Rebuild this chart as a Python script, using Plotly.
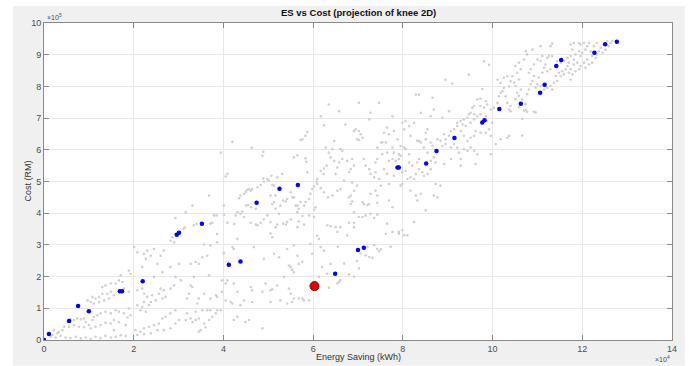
import plotly.graph_objects as go

# ---- data (x in 1e4 kWh, y in 1e5 RM) ----
x_ticks = [0, 2, 4, 6, 8, 10, 12, 14]
y_ticks = [0, 1, 2, 3, 4, 5, 6, 7, 8, 9, 10]

blue_x = [0.00, 0.11, 0.56, 0.76, 1.00, 1.69, 1.74, 2.20, 2.96, 3.01, 3.52, 4.12, 4.38, 4.74, 5.25,
          5.66, 6.49, 7.00, 7.13, 7.88, 7.91, 8.52, 8.75, 9.15, 9.77, 9.82, 10.15, 10.63, 11.06,
          11.16, 11.42, 11.53, 12.27, 12.51, 12.77]
blue_y = [0.00, 0.19, 0.60, 1.07, 0.91, 1.54, 1.54, 1.85, 3.32, 3.38, 3.67, 2.37, 2.48, 4.33, 4.77,
          4.89, 2.09, 2.84, 2.91, 5.44, 5.44, 5.57, 5.96, 6.37, 6.86, 6.93, 7.29, 7.45, 7.80,
          8.05, 8.64, 8.83, 9.06, 9.33, 9.41]

knee_x = [6.03]
knee_y = [1.70]

gray_low_left = [
    (2.82,3.13),(2.86,3.24),(2.90,3.08),(2.93,3.34),(2.01,2.93),(2.08,2.77),(2.23,2.72),(2.30,2.82),
    (2.38,2.66),(2.45,2.87),(2.60,2.66),(2.67,2.82),(2.27,2.56),(2.53,2.40),(2.19,2.30),(2.82,2.30),
    (2.64,2.14),(2.45,1.99),(2.93,1.99),(3.05,1.88),(3.01,2.40),
    (1.71,2.04),(1.67,1.88),(1.60,1.78),(1.49,1.78),(1.37,1.72),(1.30,1.67),(1.75,1.83),(1.78,1.62),
    (1.89,1.52),(1.89,2.19),(1.93,2.09),
    (1.08,1.36),(1.15,1.31),(1.23,1.36),(1.30,1.46),(1.41,1.46),(1.49,1.52),(1.56,1.41),(0.97,1.25),
    (1.04,1.20),(1.11,1.15),(1.23,1.20),(1.34,1.25),(1.45,1.31),
    (2.08,1.57),(2.19,1.62),(2.23,1.46),(2.30,1.36),(2.41,1.41),(2.56,1.46),(2.60,1.62),(2.67,1.57),
    (2.82,1.62),(2.90,1.72),(2.23,1.20),(2.38,1.20),(2.49,1.25),(2.64,1.31),(2.71,1.36),(2.08,1.10),
    (2.19,1.04),(2.34,1.10),(2.15,0.94),(2.27,0.89),
    (0.52,0.57),(0.59,0.65),(0.67,0.63),(0.74,0.68),(0.82,0.65),(0.89,0.68),(0.93,0.57),(1.00,0.47),
    (1.08,0.63),(1.11,0.73),(1.19,0.78),(1.26,0.84),(1.37,0.89),(1.49,0.84),(1.60,0.94),(1.67,0.89),
    (1.78,0.84),(1.89,0.99),(1.93,0.78),(1.86,0.71),
    (0.45,0.42),(0.56,0.42),(0.67,0.47),(0.78,0.42),(0.89,0.40),(1.04,0.37),(1.15,0.42),(1.26,0.47),
    (1.37,0.54),(1.49,0.52),(1.56,0.63),(1.67,0.57),(1.82,0.47),(1.56,0.31),
    (0.22,0.31),(0.33,0.26),(0.41,0.31),(0.30,0.21),(0.19,0.16),(0.15,0.10),(0.26,0.08),(0.37,0.13),
    (0.48,0.08),(0.59,0.06),(0.71,0.10),(0.82,0.05),(0.93,0.08),(1.04,0.04),(1.15,0.10),(1.26,0.06),
    (1.37,0.13),(1.49,0.08),(1.60,0.10),(1.71,0.15),(1.82,0.13),
    (2.04,0.31),(2.15,0.26),(2.23,0.37),(2.34,0.42),(2.45,0.47),(2.56,0.52),(2.64,0.68),(2.71,0.73),
    (2.82,0.84),(2.93,0.94),(3.01,0.63),(2.93,0.52),(2.82,0.37),(2.67,0.31),(2.53,0.31),(2.38,0.21),
    (2.23,0.19),(2.08,0.16),
]

gray_low_mid = [
    (3.86,3.34),(4.31,3.19),(4.20,2.93),(4.23,2.87),(4.01,2.74),(3.57,3.01),(3.71,2.98),(3.86,3.08),
    (4.68,2.93),(5.05,3.36),(5.09,3.24),(4.90,2.56),(5.13,2.72),(5.24,2.61),(5.42,2.87),(5.57,2.98),
    (5.65,2.66),(5.68,2.40),(5.50,2.30),(5.53,2.22),(5.46,2.35),(5.57,2.14),(5.76,2.46),(5.94,3.03),
    (5.98,2.72),(6.09,3.29),(6.13,3.19),(6.17,2.93),(6.24,2.82),(6.20,2.30),(6.31,2.09),(6.39,2.40),
    (3.27,2.40),(3.38,2.46),(3.45,2.40),(3.53,2.61),(3.64,2.66),(3.34,1.99),(3.68,2.04),(3.97,1.88),
    (4.09,1.88),(4.05,1.78),(4.23,1.78),(4.31,1.52),(4.61,1.67),(4.64,1.57),(4.87,1.52),(4.94,1.78),
    (5.05,1.57),(5.09,1.60),(5.20,1.72),(5.35,1.99),(5.46,1.62),(5.50,1.46),(5.57,1.31),(5.68,1.31),
    (5.76,1.31),(5.79,1.25),(5.91,1.25),(6.09,1.67),(6.13,1.99),(6.35,1.65),(3.27,1.72),(3.31,1.67),
    (3.23,1.46),(3.19,1.31),(3.45,1.31),(3.57,1.46),(3.71,1.31),(3.83,1.41),(3.86,1.36),(3.97,1.52),
    (4.05,1.25),(4.16,1.20),(4.20,1.15),(4.38,1.10),(4.46,1.25),(4.64,1.20),(5.05,1.20),(5.27,1.25),
    (5.42,1.15),(5.53,1.20),(3.42,1.15),(3.38,0.89),(3.53,0.94),(3.64,0.94),(3.71,0.94),(3.86,0.94),
    (3.94,0.94),(3.83,0.84),(3.75,0.73),(3.68,0.63),(3.45,0.68),(3.38,0.63),(3.27,0.68),(3.31,0.57),
    (3.57,0.52),(3.60,0.40),(3.49,0.31),(3.45,0.26),(4.31,0.73),(4.23,0.63),(4.49,0.57),(4.57,0.63),
    (4.87,0.37),(3.19,0.84),(3.16,0.63),
]

gray_low_right = [
    (6.84,4.29),(6.87,4.37),(7.10,4.35),(7.13,4.29),(7.21,4.26),(7.25,4.29),(7.43,4.33),(7.69,4.40),
    (7.77,4.19),(8.32,4.40),(8.51,4.09),(6.91,4.03),(7.02,3.88),(7.10,3.88),(7.17,3.93),(7.28,3.98),
    (7.36,3.85),(7.43,3.95),(6.50,3.56),(6.61,3.56),(6.54,3.41),(6.80,3.70),(6.91,3.70),(6.91,3.56),
    (6.76,3.30),(7.65,3.67),(7.62,3.35),(7.77,3.41),(7.91,3.41),(7.91,3.35),(7.99,3.46),(8.03,3.30),
    (8.10,3.30),(8.25,3.72),(7.36,2.99),(7.43,2.88),(7.51,2.86),(7.47,2.80),(7.73,2.94),(6.55,2.94),
    (7.21,2.94),(7.17,2.67),(7.25,2.62),(7.32,2.59),(6.98,2.49),(7.06,2.73),(6.69,2.41),(7.02,2.26),
    (6.80,2.07),(6.91,2.00),(6.61,1.89),(6.58,1.84),(6.54,1.79),
]

gray_mid = [
    (6.35,7.43),(6.17,7.06),(6.24,6.77),(5.87,6.56),(5.83,6.44),(5.76,6.33),(5.72,6.31),(4.20,6.25),
    (3.94,5.91),(4.63,6.06),(4.89,5.94),(4.87,5.81),(5.57,5.76),(5.65,5.83),(5.83,5.73),(5.85,5.62),
    (6.28,6.07),(6.43,6.02),(6.35,5.91),(6.39,5.76),(6.30,5.50),(6.24,5.41),(6.17,5.34),(6.23,5.24),
    (6.09,5.08),(6.08,4.99),(5.87,5.29),(5.31,5.24),(5.20,5.13),(5.07,5.18),(4.98,5.08),(4.89,5.10),
    (4.09,5.24),(4.05,5.16),(3.68,4.56),(3.31,4.24),(3.16,4.03),(2.93,3.85),(3.11,3.51),(3.14,3.55),
    (3.34,3.62),(3.40,3.66),(3.71,3.67),(3.75,3.70),(3.79,3.93),(3.85,3.93),(4.01,4.24),(4.01,3.95),
    (4.09,3.70),(4.24,3.66),(4.27,3.93),(4.31,4.03),(4.35,4.47),(4.38,4.56),(4.46,4.61),(4.50,4.68),
    (4.53,4.74),(4.57,4.76),(4.61,4.71),(4.64,4.76),(4.72,4.14),(4.76,4.82),(4.83,4.89),(4.90,4.99),
    (5.01,5.03),(5.09,4.89),(5.13,4.87),(5.16,4.56),(5.05,4.56),(5.09,4.29),(5.13,4.35),(5.16,4.14),
    (5.24,3.98),(5.27,4.24),(5.33,4.40),(5.39,4.37),(5.42,4.45),(5.50,4.66),(5.54,4.50),(5.57,4.50),
    (5.61,4.24),(5.65,4.24),(5.68,4.14),(5.72,4.35),(5.80,4.24),(5.83,4.35),(5.91,4.45),(5.94,4.61),
    (5.98,4.76),(6.02,4.85),(6.09,4.92),(6.17,4.79),(6.24,4.66),(6.33,4.50),(6.43,4.56),(6.05,4.19),
    (6.02,4.11),(5.91,3.93),(6.02,3.88),(5.76,3.91),(5.65,4.03),(5.68,3.74),(5.50,3.80),(5.42,3.72),
    (5.39,3.64),(5.33,3.67),(5.20,3.64),(5.05,3.72),(4.98,3.93),(4.90,3.80),(4.83,3.70),(4.76,3.62),
    (4.72,3.64),(4.61,3.70),(4.46,3.88),(4.38,3.98),(4.42,4.05),(4.50,4.24),(4.55,4.26),(4.62,4.19),
    (6.32,3.62),(6.39,3.59),(5.16,3.56),(5.65,3.56),(5.80,3.64),
]

gray_upper_mid = [
    (9.81,8.79),(9.92,8.68),(9.47,8.37),(9.10,8.09),(8.95,8.21),(10.11,8.21),(10.18,8.11),(10.25,8.27),
    (10.33,8.32),(10.40,8.16),(10.44,8.32),(10.37,8.00),(10.25,7.95),(10.18,7.80),(10.14,7.69),(10.22,7.85),
    (10.29,7.69),(10.33,7.48),(10.40,7.38),(10.37,7.27),(10.40,7.22),(9.77,7.92),(9.66,7.59),(9.73,7.61),
    (9.85,7.53),(9.88,7.43),(9.81,7.33),(9.73,7.38),(9.59,7.38),(9.55,7.33),(9.51,7.17),(9.59,7.12),
    (9.47,7.12),(9.44,7.01),(9.36,6.96),(9.29,6.91),(9.21,6.85),(9.33,6.80),(9.40,6.75),(9.51,6.85),
    (9.59,6.96),(9.66,7.06),(9.73,7.12),(9.85,7.06),(9.88,6.91),(9.96,7.27),(10.03,7.33),(10.11,7.48),
    (9.99,6.85),(9.92,6.65),(9.96,6.44),(9.85,6.54),(9.73,6.54),(9.62,6.59),(9.59,6.44),(9.51,6.38),
    (9.44,6.28),(9.36,6.44),(9.29,6.59),(9.21,6.75),(9.14,6.65),(9.07,6.59),(9.03,6.44),(8.95,6.33),
    (8.92,6.49),(8.88,7.01),(9.03,7.22),(8.69,7.27),(8.66,7.64),(8.62,7.06),(8.40,7.17),(8.36,7.74),
    (8.29,7.74),(8.25,6.85),(8.17,6.44),(8.14,6.75),(8.06,6.91),(7.99,6.85),(8.03,6.65),(7.95,6.12),
    (7.88,6.33),(7.77,7.06),(7.80,6.59),(7.69,6.49),(7.65,6.70),(7.58,6.54),(7.47,7.48),(7.28,7.17),
    (7.25,6.96),(7.02,7.48),(6.91,6.59),(6.95,6.65),(7.02,6.59),(7.06,6.49),(7.10,6.38),(6.98,6.33),
    (7.02,6.31),(7.43,6.07),(7.51,6.23),(7.54,6.23),(7.62,6.23),(7.77,6.07),(7.80,5.91),(7.91,5.86),
    (7.95,5.81),(8.03,6.07),(8.06,6.02),(8.14,5.86),(8.32,6.28),(8.36,6.28),(8.40,6.23),(8.51,6.54),
    (8.55,6.65),(8.51,6.33),(8.62,6.23),(8.66,6.12),(8.69,5.76),(8.62,5.65),(8.55,5.91),(8.47,6.07),
    (8.77,6.33),(8.84,6.28),(8.88,6.12),(8.95,6.18),(9.07,6.07),(9.14,6.18),(9.21,6.07),(9.25,5.91),
    (9.29,5.71),(9.36,6.02),(9.44,5.97),(9.51,6.07),(9.59,5.97),(9.66,5.86),(9.07,5.71),(8.92,5.55),
    (8.73,5.60),(9.96,5.86),(10.07,6.18),(10.18,6.33),(10.33,6.38),(10.37,6.44),(6.58,7.22),(6.72,6.80),
    (6.47,6.28),(6.61,6.02),(6.65,5.97),(6.47,5.65),(6.65,5.71),(6.76,5.65),(6.87,5.71),(6.91,5.50),
    (6.84,5.39),(6.80,5.29),(6.58,5.60),(6.54,5.44),(6.50,5.24),(6.69,5.03),(6.87,4.97),(6.98,4.87),
    (6.91,4.71),(6.61,4.76),(6.54,4.71),(6.84,4.56),(6.80,4.50),(7.13,5.71),(7.17,5.50),(7.25,5.39),
    (7.28,5.24),(7.36,5.13),(7.39,5.29),(7.39,5.60),(7.43,5.71),(7.54,5.86),(7.65,5.91),(7.69,5.65),
    (7.77,5.71),(7.84,5.65),(7.91,5.71),(7.58,5.39),(7.65,5.24),(7.47,5.08),(7.51,4.87),(7.39,4.71),
    (7.28,4.61),(7.43,4.56),(7.69,4.92),(7.80,5.18),(7.99,5.29),(7.95,4.87),(7.99,4.92),(8.06,5.34),
    (8.10,5.08),(8.17,5.13),(8.25,5.08),(8.29,5.24),(8.36,5.39),(8.43,5.29),(8.47,5.18),(8.55,5.24),
    (8.62,5.39),(8.17,4.71),(8.29,4.56),(8.40,4.61),(8.69,4.56),(8.77,4.50),(8.73,4.92),(8.84,4.87),
    (8.32,5.60),(8.36,5.71),(8.21,5.50),(8.14,5.60),(9.29,5.50),(9.62,5.55),
]

gray_top_right = [
    (11.33,9.35),(11.29,9.27),(11.07,9.27),(10.89,9.16),(10.74,9.11),(10.77,9.01),(10.70,8.85),(10.59,8.75),
    (10.51,8.64),(10.63,8.54),(10.55,8.43),(10.59,8.22),(10.48,8.12),(10.51,8.01),(10.63,7.90),(10.55,7.80),
    (10.66,7.59),(10.59,7.34),(10.70,7.23),(10.74,7.26),(10.77,7.20),(10.92,7.20),(10.96,7.18),(10.66,6.97),
    (10.66,6.45),(10.77,7.75),(10.81,7.90),(10.85,8.07),(10.89,8.17),(10.92,8.33),(10.81,8.43),(10.85,8.54),
    (10.92,8.69),(11.00,8.85),(11.07,8.80),(11.11,8.96),(11.22,8.90),(11.26,8.96),(11.33,8.96),(11.18,8.69),
    (11.15,8.59),(11.22,8.48),(11.29,8.54),(11.11,8.43),(11.03,8.28),(11.00,8.07),(10.96,7.96),(11.07,8.01),
    (11.15,7.90),(11.22,7.96),(11.29,8.01),(11.33,7.90),(11.37,8.12),(11.44,8.17),(11.41,8.33),(11.48,8.43),
    (11.52,8.33),(11.55,8.48),(11.59,8.38),(11.63,8.54),(11.67,8.64),(11.70,8.75),(11.59,8.80),(11.52,8.75),
    (11.67,8.90),(11.74,8.96),(11.81,8.85),(11.85,9.01),(11.78,9.16),(11.81,9.37),(11.74,9.32),(11.93,9.37),
    (11.96,9.32),(12.04,9.37),(12.11,9.27),(12.15,9.37),(11.93,9.11),(12.00,9.06),(12.07,9.16),(12.19,9.11),
    (12.22,8.96),(12.11,8.85),(12.04,8.75),(11.96,8.64),(11.93,8.54),(11.85,8.48),(11.78,8.38),(11.74,8.22),
    (11.81,8.69),(11.89,8.75),(12.07,8.59),(12.15,8.69),(12.22,8.75),(12.30,8.90),(12.33,9.01),(12.37,9.11),
    (12.41,9.22),(12.45,9.06),(12.52,9.16),(12.59,9.27),(12.63,9.37),(12.67,9.43),(12.56,9.43),(12.33,9.37),
    (12.26,9.27),(11.96,8.96),(11.74,8.54),(11.70,8.43),(11.41,8.64),(11.44,8.80),(10.59,7.70),(10.51,7.59),
    (10.74,7.44),
]

X_UNIT = 1e4
Y_UNIT = 1e5

gray_all = gray_low_left + gray_low_mid + gray_low_right + gray_mid + gray_upper_mid + gray_top_right
gray_x = [p[0] * X_UNIT for p in gray_all]
gray_y = [p[1] * Y_UNIT for p in gray_all]

FONT = "Liberation Sans, Arial, Helvetica, sans-serif"
AX_COL = "#8a8a8a"
TXT_COL = "#4d4d4d"

fig = go.Figure()
fig.add_trace(go.Scatter(x=gray_x, y=gray_y, mode="markers",
                         marker=dict(size=2.6, color="#d0d0d0"), hoverinfo="skip", showlegend=False))
fig.add_trace(go.Scatter(x=[v * X_UNIT for v in blue_x], y=[v * Y_UNIT for v in blue_y], mode="markers",
                         marker=dict(size=4.5, color="#0000ff"), showlegend=False))
fig.add_trace(go.Scatter(x=[v * X_UNIT for v in knee_x], y=[v * Y_UNIT for v in knee_y], mode="markers",
                         marker=dict(size=9, color="#ee0000", line=dict(color="#7a0000", width=1)),
                         showlegend=False))

axis_common = dict(
    ticks="inside", ticklen=5, tickcolor=AX_COL, showline=True, linecolor=AX_COL, linewidth=1,
    mirror="allticks", showgrid=True, gridcolor="#e8e8e8", gridwidth=1, zeroline=False,
    tickfont=dict(family=FONT, size=9, color=TXT_COL), fixedrange=True,
)

fig.update_xaxes(range=[0, 14 * X_UNIT], tickvals=[t * X_UNIT for t in x_ticks],
                 ticktext=[str(t) for t in x_ticks], **axis_common)
fig.update_yaxes(range=[0, 10 * Y_UNIT], tickvals=[t * Y_UNIT for t in y_ticks],
                 ticktext=[str(t) for t in y_ticks], **axis_common)

L, R, T, B = 44, 27, 23, 24
W, H = 699, 366
pw, ph = W - L - R, H - T - B

fig.update_layout(
    width=W, height=H,
    margin=dict(l=L, r=R, t=T, b=B),
    paper_bgcolor="white", plot_bgcolor="white",
    font=dict(family=FONT, size=9, color=TXT_COL),
    shapes=[
        dict(type="rect", xref="paper", yref="paper", layer="below",
             x0=(13 - L) / pw, x1=(685 - L) / pw, y0=-(B + 2) / ph, y1=(ph + T - 6) / ph,
             fillcolor="#f0f0f0", line=dict(width=0)),
        dict(type="rect", xref="paper", yref="paper", layer="below",
             x0=0, x1=1, y0=0, y1=1, fillcolor="white", line=dict(width=0)),
    ],
    annotations=[
        dict(text="<b>ES vs Cost (projection of knee 2D)</b>", xref="paper", yref="paper",
             x=0.5, y=1 + (T - 12) / ph, xanchor="center", yanchor="middle", showarrow=False,
             font=dict(family=FONT, size=9.5, color="#111111")),
        dict(text="Energy Saving (kWh)", xref="paper", yref="paper", x=0.5, y=-(359 - 342) / ph,
             xanchor="center", yanchor="middle", showarrow=False,
             font=dict(family=FONT, size=9, color="#333333")),
        dict(text="Cost (RM)", xref="paper", yref="paper", x=-(L - 27) / pw, y=0.5, textangle=-90,
             xanchor="center", yanchor="middle", showarrow=False,
             font=dict(family=FONT, size=9, color="#333333")),
        dict(text="×10<sup>5</sup>", xref="paper", yref="paper", x=(45 - L) / pw, y=1 + (T - 17) / ph,
             xanchor="left", yanchor="middle", showarrow=False,
             font=dict(family=FONT, size=7, color=TXT_COL)),
        dict(text="×10<sup>4</sup>", xref="paper", yref="paper", x=1.0, y=-(361 - 342) / ph,
             xanchor="right", yanchor="middle", showarrow=False,
             font=dict(family=FONT, size=7, color=TXT_COL)),
    ],
)

fig.write_html("out.html", config={"displayModeBar": False},
               post_script="document.body.style.margin='0';document.body.style.overflow='hidden';")
